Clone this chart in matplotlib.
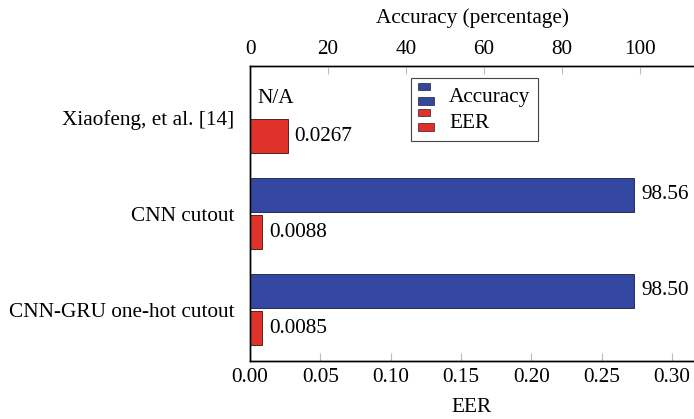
import matplotlib
matplotlib.use("Agg")
import matplotlib.pyplot as plt
from matplotlib.patches import Rectangle
from matplotlib.legend_handler import HandlerBase

plt.rcParams['font.family'] = ['Liberation Serif', 'DejaVu Serif']
plt.rcParams['font.size'] = 15.3

categories = ["Xiaofeng, et al. [14]", "CNN cutout", "CNN-GRU one-hot cutout"]
accuracy = [None, 98.56, 98.50]
accuracy_labels = ["N/A", "98.56", "98.50"]
eer = [0.0267, 0.0088, 0.0085]
eer_labels = ["0.0267", "0.0088", "0.0085"]
eer_ticks = [0.00, 0.05, 0.10, 0.15, 0.20, 0.25, 0.30]
acc_ticks = [0, 20, 40, 60, 80, 100]

BLUE = "#3346A0"
RED = "#E0322A"

fig = plt.figure(figsize=(6.94, 4.19), dpi=100)
ax = fig.add_axes([250/694, (419-361)/419, (694-250)/694, (361-66)/419])
ax2 = ax.twiny()

ypos = list(range(len(categories)))
h = 0.35
off = 0.195

acc_vals = [a if a is not None else 0 for a in accuracy]
ax2.barh([y - off for y in ypos], acc_vals, height=h, color=BLUE,
         edgecolor="#1a1a40", linewidth=0.6)
ax.barh([y + off for y in ypos], eer, height=h, color=RED,
        edgecolor="#3a1010", linewidth=0.6)

for y, v, lab in zip(ypos, acc_vals, accuracy_labels):
    ax2.annotate(lab, (v, y - off), xytext=(5, 0), textcoords="offset points",
                 va="center", ha="left")
for y, v, lab in zip(ypos, eer, eer_labels):
    ax.annotate(lab, (v, y + off), xytext=(5, 0), textcoords="offset points",
                va="center", ha="left")

ax.set_xlim(0, 444/1406.7)
ax2.set_xlim(0, 444/3.9)
ax.set_ylim(2.536, -0.536)
ax2.set_ylim(2.536, -0.536)

ax.set_yticks(ypos)
ax.set_yticklabels(categories)
ax.tick_params(axis='y', length=0, pad=11)
ax.set_xticks(eer_ticks)
ax.set_xticklabels([f"{t:.2f}" for t in eer_ticks])
ax2.set_xticks(acc_ticks)
ax2.set_xticklabels([str(t) for t in acc_ticks])
ax.tick_params(axis='x', direction='in', length=6, color='#bbbbbb', width=0.8, pad=5)
ax2.tick_params(axis='x', direction='in', length=6, color='#bbbbbb', width=0.8, pad=5)

for a in (ax, ax2):
    a.spines['right'].set_visible(False)
    for s in ('left', 'top', 'bottom'):
        a.spines[s].set_linewidth(1.0)

ax.set_xlabel("EER", labelpad=8)
ax2.set_xlabel("Accuracy (percentage)", labelpad=12)


class TwoBarHandler(HandlerBase):
    def __init__(self, color):
        super().__init__()
        self.color = color

    def create_artists(self, legend, orig_handle, xdescent, ydescent, width,
                       height, fontsize, trans):
        r1 = Rectangle((0, height * 0.62), width * 0.72, height * 0.38,
                       facecolor=self.color, edgecolor="#222222", lw=0.5,
                       transform=trans)
        r2 = Rectangle((0, -height * 0.12), width, height * 0.42,
                       facecolor=self.color, edgecolor="#222222", lw=0.5,
                       transform=trans)
        return [r1, r2]


hb = Rectangle((0, 0), 1, 1)
hr = Rectangle((0, 0), 1, 1)
leg = ax2.legend([hb, hr], ["Accuracy", "EER"],
                 handler_map={hb: TwoBarHandler(BLUE), hr: TwoBarHandler(RED)},
                 loc="upper left", bbox_to_anchor=((411-250)/444, (361-78)/295),
                 bbox_transform=ax.transAxes, fancybox=False, framealpha=1,
                 edgecolor="#444444", handlelength=0.75, handleheight=1.0,
                 handletextpad=0.7, borderpad=0.35, labelspacing=0.2,
                 borderaxespad=0)
leg.get_frame().set_linewidth(0.8)

fig.savefig("out.png", dpi=100)
